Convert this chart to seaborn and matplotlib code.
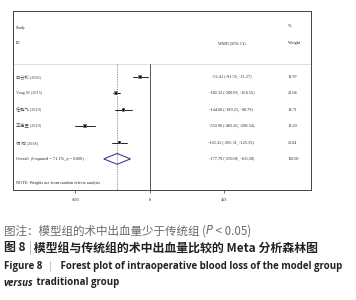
import numpy as np
import pandas as pd
import seaborn as sns
import matplotlib
matplotlib.use("Agg")
import matplotlib.pyplot as plt

# study-level data
studies = ["白云松 (2020)", "Yang M (2015)", "任鹏飞 (2019)", "王金玉 (2019)", "杨 阳 (2018)"]
wmd = [-52.41, -182.32, -144.00, -350.90, -165.32]
ci_low = [-93.55, -200.09, -189.21, -403.26, -205.31]
ci_high = [-11.27, -164.55, -98.79, -298.54, -125.33]
weights = [19.97, 21.08, 19.71, 19.20, 20.04]

overall = -177.79
overall_low = -250.08
overall_high = -105.50
overall_label = "Overall  (I-squared = 71.1%, p = 0.000)"
x_ticks = [-403, 0, 403]

sns.set_theme(style="white")
serif = ["Liberation Serif", "Noto Sans CJK SC"]
cjk = ["Noto Sans CJK SC", "DejaVu Sans"]

fig = plt.figure(figsize=(3.56, 3.0), dpi=100)
W, H = 356, 300
# box of the forest plot in pixels: left 13, right 311, top 11, bottom 190
ax = fig.add_axes([13 / W, 1 - 190 / H, 298 / W, 179 / H])
ax.set_xlim(-741, 871)
ax.set_ylim(6.9, -4.03)

df = pd.DataFrame({"study": studies, "wmd": wmd, "lo": ci_low, "hi": ci_high,
                   "weight": weights, "row": np.arange(len(studies))})

fs = 3.1
txt = "#222222"
# header
ax.text(-725, -3, "Study", fontsize=fs, family=serif, va="center", color=txt)
ax.text(-725, -2.07, "ID", fontsize=fs, family=serif, va="center", color=txt)
ax.text(440, -2.07, "WMD (95% CI)", fontsize=fs, family=serif, va="center", ha="center", color=txt)
ax.text(745, -3.1, "%", fontsize=fs, family=serif, va="center", color=txt)
ax.text(745, -2.07, "Weight", fontsize=fs, family=serif, va="center", color=txt)
ax.axhline(-0.8, color="#d9d9d9", lw=0.6)

# reference lines
ax.plot([0, 0], [-0.8, 6.9], color="#555555", lw=0.7)
ax.plot([overall, overall], [-0.8, 6.9], color="#c0504d", lw=0.5, ls=(0, (2, 1.5)))

# CIs and study markers
for _, r in df.iterrows():
    ax.plot([r.lo, r.hi], [r.row, r.row], color="black", lw=0.6)
    ax.text(-725, r.row, r.study, fontsize=fs, family=serif, va="center", color="#444444")
    ax.text(440, r.row, f"{r.wmd:.2f} ({r.lo:.2f}, {r.hi:.2f})", fontsize=fs,
            family=serif, va="center", ha="center", color=txt)
    ax.text(745, r.row, f"{r.weight:.2f}", fontsize=fs, family=serif, va="center", color=txt)
sns.scatterplot(data=df, x="wmd", y="row", size="weight", sizes=(6, 8), marker="s",
                color="#8a8a8a", edgecolor="none", legend=False, ax=ax, zorder=3)
sns.scatterplot(data=df, x="wmd", y="row", marker="o", s=3, color="black",
                edgecolor="none", legend=False, ax=ax, zorder=4)

# pooled diamond
orow = len(studies)
ax.fill([overall_low, overall, overall_high, overall],
        [orow, orow - 0.33, orow, orow + 0.33], facecolor="none",
        edgecolor="#1f2a8a", lw=0.7, zorder=5)
ax.text(-725, orow, overall_label, fontsize=fs, family=serif, va="center", color=txt)
ax.text(440, orow, f"{overall:.2f} ({overall_low:.2f}, {overall_high:.2f})",
        fontsize=fs, family=serif, va="center", ha="center", color=txt)
ax.text(745, orow, "100.00", fontsize=fs, family=serif, va="center", color=txt)
ax.text(-725, 6.5, "NOTE: Weights are from random effects analysis", fontsize=fs,
        family=serif, va="center", color=txt)

ax.set_xlabel("")
ax.set_ylabel("")
ax.set_xticks(x_ticks)
ax.set_xticklabels([str(t) for t in x_ticks], fontsize=fs, family=serif, color=txt)
ax.set_yticks([])
ax.tick_params(axis="x", direction="out", length=2.5, width=0.5, pad=3,
               bottom=True, color="#333333")
for s in ax.spines.values():
    s.set_color("#444444")
    s.set_linewidth(0.7)

# caption
fig.canvas.draw()
ren = fig.canvas.get_renderer()


def put(x, y, s, **kw):
    t = fig.text(x / W, 1 - y / H, s, va="center", **kw)
    bb = t.get_window_extent(renderer=ren)
    return bb.x1


x = put(4, 231, "图注：模型组的术中出血量少于传统组 (", fontsize=8.3, family=cjk, color="#6a6a6a")
x = put(x, 231, "P", fontsize=8.3, family=["DejaVu Sans"], style="italic", color="#6a6a6a")
put(x, 231, " < 0.05)", fontsize=8.3, family=cjk, color="#6a6a6a")

x = put(4, 248, "图 8 ", fontsize=8.6, family=cjk, weight="bold", color="#222222")
x = put(x, 248, "|", fontsize=8.6, family=cjk, color="#aaaaaa")
put(x, 248, " 模型组与传统组的术中出血量比较的 Meta 分析森林图", fontsize=8.6,
    family=cjk, weight="bold", color="#222222")

cap = dict(fontsize=7.0, family=["Open Sans"], color="#222222")
x = put(4, 266, "Figure 8  ", weight="bold", **cap)
x = put(x, 266, "|", **{**cap, "color": "#aaaaaa"})
put(x, 266, "   Forest plot of intraoperative blood loss of the model group",
    weight="bold", **cap)
x = put(4, 283, "versus", weight="bold", style="italic", **cap)
put(x, 283, " traditional group", weight="bold", **cap)

fig.savefig("out.png", dpi=100)
